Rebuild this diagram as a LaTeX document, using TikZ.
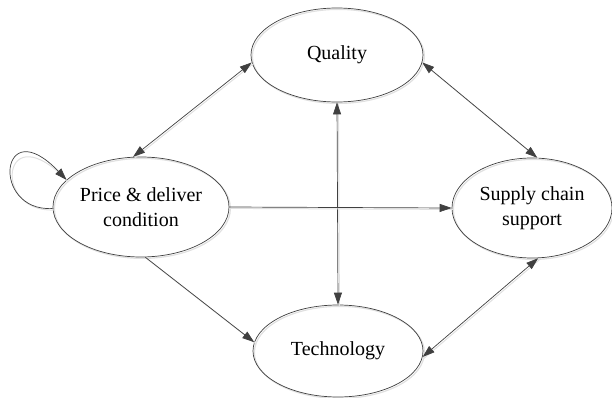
\documentclass[tikz,border=0pt]{standalone}
\usepackage{fontspec}
\setmainfont{Liberation Serif}
\usetikzlibrary{arrows.meta,shapes.geometric}
\begin{document}
\begin{tikzpicture}[x=1pt,y=-1pt,
  tip/.tip={Triangle[length=12pt,width=8pt]},
  state/.style={ellipse, draw=black!75, line width=0.7pt, inner sep=0pt,
    align=center, font=\fontsize{20}{25}\selectfont,
    preaction={draw=black!12, line width=1.2pt,
      transform canvas={shift={(1.4pt,-1.4pt)}}}},
  link/.style={draw=black!75, line width=0.7pt, -tip,
    preaction={draw=black!12, line width=1pt, -,
      transform canvas={shift={(1.4pt,-1.4pt)}}}},
  twoway/.style={link, tip-tip}]
\useasboundingbox (0,0) rectangle (612,398);

% states
\node[state, minimum width=172pt, minimum height=94pt] (Q) at (337,55) {Quality};
\node[state, minimum width=176pt, minimum height=100pt] (P) at (141,207) {Price \& deliver\\condition};
\node[state, minimum width=160pt, minimum height=100pt] (S) at (532,208) {Supply chain\\support};
\node[state, minimum width=170pt, minimum height=92pt] (T) at (338,351) {Technology};

% relations
\draw[twoway] (Q.185) -- (P.99);
\draw[twoway] (Q.355) -- (S.84);
\draw[twoway] (Q.south) -- (T.north);
\draw[link] (P.east) -- (S.west);
\draw[link] (P.275) -- (T.174);
\draw[twoway] (S.277) -- (T.356);
\draw[link] (P.181) .. controls (-10,212) and (0,110) .. (P.160);
\end{tikzpicture}
\end{document}
